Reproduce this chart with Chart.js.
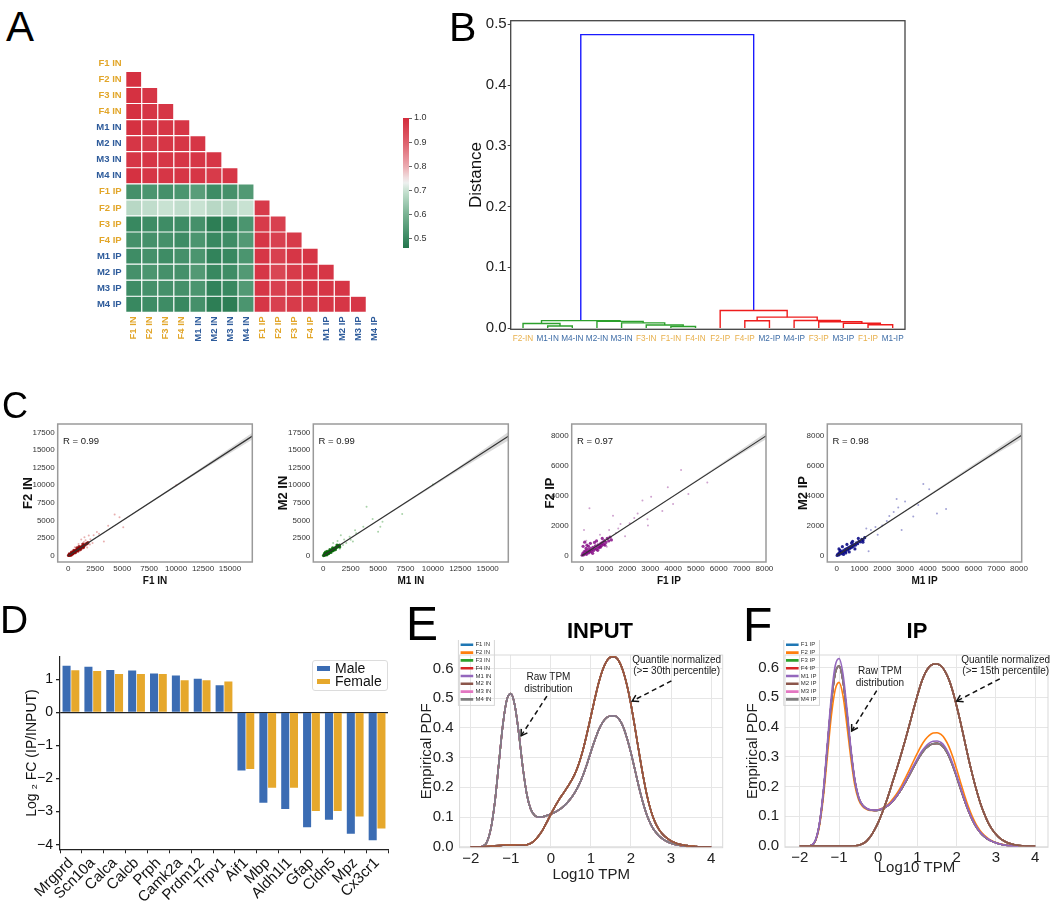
<!DOCTYPE html>
<html>
<head>
<meta charset="utf-8">
<script src="https://cdn.jsdelivr.net/npm/chart.js@4.4.1/dist/chart.umd.min.js"></script>
<style>
  body { margin: 0; background: #fff; }
  #fig { position: relative; width: 1050px; height: 902px; overflow: hidden; background: #fff;
         font-family: 'Liberation Sans', Arial, sans-serif; }
  .w { position: absolute; }
  .w canvas { display: block; }
  .lt { position: absolute; line-height: 1; color: #000; z-index: 2; }
  .ttl { position: absolute; width: 200px; text-align: center; font-weight: bold; font-size: 22px; line-height: 1; z-index: 2; }
  .leg { position: absolute; border: 1px solid #dcdcdc; border-radius: 3px; background: #fff;
         font-size: 14px; z-index: 2; padding-top: 1px; }
  .leg .row { height: 13px; line-height: 13px; display: flex; align-items: center; white-space: nowrap; color: #111; }
  .leg .hd { display: inline-block; width: 13px; height: 5px; margin: 0 5px 0 4px; }
</style>
</head>
<body>
<div id="fig">
  <div class="w" style="left:60px;top:40px;width:330px;height:310px"><canvas id="hm"></canvas></div>
  <div class="w" style="left:395px;top:110px;width:40px;height:148px"><canvas id="cbar"></canvas></div>
  <div class="w" style="left:440px;top:10px;width:480px;height:345px"><canvas id="dendro"></canvas></div>
  <div class="w" style="left:15px;top:415px;width:250px;height:176px"><canvas id="c1"></canvas></div>
  <div class="w" style="left:271px;top:415px;width:250px;height:176px"><canvas id="c2"></canvas></div>
  <div class="w" style="left:530px;top:415px;width:250px;height:176px"><canvas id="c3"></canvas></div>
  <div class="w" style="left:786px;top:415px;width:250px;height:176px"><canvas id="c4"></canvas></div>
  <div class="w" style="left:0px;top:640px;width:400px;height:262px"><canvas id="barD"></canvas></div>
  <div class="w" style="left:412px;top:640px;width:318px;height:262px"><canvas id="kdeE"></canvas></div>
  <div class="w" style="left:738px;top:640px;width:312px;height:262px"><canvas id="kdeF"></canvas></div>

  <div class="lt" style="left:6px;top:6px;font-size:42px">A</div>
  <div class="lt" style="left:449px;top:7px;font-size:41px">B</div>
  <div class="lt" style="left:2px;top:388px;font-size:36px">C</div>
  <div class="lt" style="left:0px;top:600px;font-size:39px">D</div>
  <div class="lt" style="left:406px;top:600px;font-size:48px">E</div>
  <div class="lt" style="left:743px;top:601px;font-size:48px">F</div>
  <div class="ttl" style="left:500px;top:620px">INPUT</div>
  <div class="ttl" style="left:817px;top:620px">IP</div>

  <div class="leg" id="legD" style="left:312px;top:660px;width:74px;height:28px"></div>
</div>

<script>
// ---------- A: sample correlation (lower triangle) ----------
const sampleLabels = ['F1 IN', 'F2 IN', 'F3 IN', 'F4 IN', 'M1 IN', 'M2 IN', 'M3 IN', 'M4 IN',
                      'F1 IP', 'F2 IP', 'F3 IP', 'F4 IP', 'M1 IP', 'M2 IP', 'M3 IP', 'M4 IP'];
const corrRows = [
  [],
  [0.99],
  [0.99, 0.98],
  [0.99, 0.98, 0.98],
  [0.99, 0.98, 0.98, 0.98],
  [0.98, 0.97, 0.98, 0.98, 0.98],
  [0.98, 0.98, 0.98, 0.98, 0.98, 0.98],
  [0.99, 0.98, 0.98, 0.98, 0.98, 0.97, 0.98],
  [0.52, 0.53, 0.52, 0.53, 0.55, 0.51, 0.52, 0.54],
  [0.68, 0.69, 0.70, 0.69, 0.70, 0.68, 0.68, 0.70, 0.97],
  [0.50, 0.51, 0.51, 0.51, 0.52, 0.48, 0.49, 0.53, 0.97, 0.96],
  [0.52, 0.52, 0.52, 0.51, 0.53, 0.50, 0.51, 0.54, 0.98, 0.96, 0.97],
  [0.51, 0.52, 0.51, 0.52, 0.53, 0.49, 0.50, 0.53, 0.98, 0.96, 0.98, 0.98],
  [0.52, 0.53, 0.52, 0.52, 0.54, 0.50, 0.51, 0.54, 0.98, 0.95, 0.97, 0.98, 0.98],
  [0.51, 0.52, 0.52, 0.52, 0.53, 0.49, 0.50, 0.54, 0.98, 0.96, 0.97, 0.98, 0.98, 0.98],
  [0.50, 0.51, 0.51, 0.50, 0.52, 0.48, 0.48, 0.53, 0.98, 0.96, 0.97, 0.97, 0.98, 0.98, 0.98]
];
const cbarTicks = [0.5, 0.6, 0.7, 0.8, 0.9, 1.0];
const cbarMin = 0.4625, cbarMax = 1.0;

// ---------- B: dendrogram ----------
const leafOrder = ['F2-IN', 'M1-IN', 'M4-IN', 'M2-IN', 'M3-IN', 'F3-IN', 'F1-IN', 'F4-IN',
                   'F2-IP', 'F4-IP', 'M2-IP', 'M4-IP', 'F3-IP', 'M3-IP', 'F1-IP', 'M1-IP'];
// [left, right, height]; numbers point to earlier merges
const merges = [
  ['M1-IN', 'M4-IN', 0.0035],
  ['F2-IN', 0, 0.0075],
  ['F1-IN', 'F4-IN', 0.0025],
  ['F3-IN', 2, 0.005],
  ['M3-IN', 3, 0.0085],
  ['M2-IN', 4, 0.011],
  [1, 5, 0.0122],
  ['F1-IP', 'M1-IP', 0.0055],
  ['M3-IP', 7, 0.008],
  ['F3-IP', 8, 0.0105],
  ['M4-IP', 9, 0.0125],
  ['F4-IP', 'M2-IP', 0.012],
  [11, 10, 0.018],
  ['F2-IP', 12, 0.029],
  [6, 13, 0.483]
];
const linkColors = ['#2ca02c', '#2ca02c', '#2ca02c', '#2ca02c', '#2ca02c', '#2ca02c', '#2ca02c',
                    '#ee1c1c', '#ee1c1c', '#ee1c1c', '#ee1c1c', '#ee1c1c', '#ee1c1c', '#ee1c1c', '#1a1aff'];
const distTicks = [0, 0.1, 0.2, 0.3, 0.4, 0.5];

// ---------- C: replicate scatter ----------
const inTicksX = [0, 2500, 5000, 7500, 10000, 12500, 15000];
const inTicksY = [0, 2500, 5000, 7500, 10000, 12500, 15000, 17500];
const ipTicksX = [0, 1000, 2000, 3000, 4000, 5000, 6000, 7000, 8000];
const ipTicksY = [0, 2000, 4000, 6000, 8000];
const rValues = ['R = 0.99', 'R = 0.99', 'R = 0.97', 'R = 0.98'];

const c1Dense = [[20,30],[60,90],[110,60],[150,170],[190,120],[240,260],[280,200],[330,340],[370,290],[420,450],
  [460,390],[510,540],[560,500],[600,640],[650,580],[700,730],[740,690],[790,820],[840,780],[880,930],[930,880],
  [980,1030],[1030,970],[1080,1130],[1140,1080],[1200,1240],[1260,1200],[1330,1370],[1400,1330],[1480,1500],
  [1560,1520],[1650,1680],[1740,1700],[1820,1860],[90,250],[250,80],[430,260],[300,520],[650,420],[520,760],
  [900,650],[800,1100],[1150,900],[1000,1300],[1400,1150],[1350,1650]];
const c1Spread = [[1200,2300],[1500,2600],[1900,2850],[2050,2350],[2250,1800],[2650,3350],[3300,2000],[3700,4250],
  [4300,5850],[4750,5450],[5100,4050],[1750,1150],[1450,1950],[2350,2900],[950,1650],[2850,3100],[600,1200],
  [1100,700],[2000,1600],[1600,2200],[10000,10000]];
const c1FitX = [0, 17069], c1FitY = [0, 16960];
const c1BandX = [0, 4000, 8000, 12000, 17069];
const c1BandHi = [30, 4020, 8030, 12120, 17450];
const c1BandLo = [-30, 3930, 7870, 11730, 16470];

const c2Dense = [[20,20],[70,100],[120,70],[160,190],[210,150],[260,290],[300,230],[350,380],[400,330],[450,490],
  [500,430],[550,600],[600,540],[650,700],[700,640],[750,790],[800,740],[860,900],[900,840],[960,1000],[1010,950],
  [1070,1100],[1120,1060],[1190,1220],[1260,1200],[1330,1380],[1400,1330],[1480,1500],[120,330],[330,120],
  [500,300],[350,600],[700,450],[600,850],[900,700],[850,1100],[1100,850],[1250,1500],[1500,1250],[200,500]];
const c2Spread = [[3950,6950],[5200,4100],[5000,3400],[5400,4800],[7200,5900],[3650,4100],[3000,3200],[2400,2700],
  [1600,2900],[2700,2000],[2100,1800],[1300,2100],[1800,1500],[900,1800],[2500,2250],[2900,3600],[1900,2300],
  [10000,10100],[4500,5200],[1500,1000]];
const c2FitX = [0, 16880], c2FitY = [0, 16950];
const c2BandX = [0, 4000, 8000, 12000, 16880];
const c2BandHi = [30, 4030, 8060, 12180, 17550];
const c2BandLo = [-30, 3960, 7880, 11760, 16350];

const c3Dense = [[20,30],[50,150],[90,60],[110,280],[150,130],[180,320],[210,90],[240,220],[280,400],[310,190],
  [340,300],[380,470],[410,260],[450,380],[490,560],[520,340],[560,470],[600,660],[640,430],[680,570],[720,720],
  [760,520],[800,650],[840,820],[880,680],[920,900],[960,760],[1000,1000],[1060,880],[1120,1150],[1180,980],
  [1240,1230],[60,620],[130,900],[230,700],[380,820],[560,880],[820,560],[700,360],[1020,700],[1300,1050],
  [480,160],[300,620],[190,480],[650,980],[900,1150]];
const c3Spread = [[4350,5700],[5500,4860],[3770,4550],[4670,4100],[4000,3440],[3040,3920],[2660,3660],[3530,2970],
  [2880,2420],[2900,2000],[340,3150],[100,1700],[1370,2660],[2450,2800],[1700,2100],[2100,2150],[1500,1500],
  [1900,1300],[1200,1700],[1600,1800],[2300,2500],[1100,600],[200,1000],[800,1400]];
const c3FitX = [0, 8070], c3FitY = [0, 7960];
const c3BandX = [0, 2000, 4000, 6000, 8070];
const c3BandHi = [20, 2000, 3990, 6030, 8180];
const c3BandLo = [-20, 1950, 3910, 5870, 7740];

const c4Dense = [[20,20],[50,110],[90,50],[120,210],[160,120],[200,260],[240,170],[280,330],[320,240],[360,400],
  [400,310],[440,470],[480,390],[520,540],[560,460],[600,610],[640,530],[680,690],[720,610],[770,760],[820,700],
  [870,860],[920,800],[980,960],[1040,920],[1100,1080],[1160,1040],[1230,1200],[100,450],[250,600],[450,750],
  [650,850],[300,80],[550,250],[800,450],[950,1150],[1150,900],[400,180],[150,350],[700,950]];
const c4Spread = [[3800,4770],[4060,4410],[2630,3770],[3000,3600],[3580,3370],[4800,3100],[4400,2800],[2310,2640],
  [2850,1700],[1400,300],[1240,1220],[3360,2600],[2000,2000],[1700,1900],[2500,2900],[1800,1400],[2200,2300],
  [1500,1700],[2700,3200],[1300,1800]];
const c4FitX = [0, 8118], c4FitY = [0, 8000];
const c4BandX = [0, 2000, 4000, 6000, 8118];
const c4BandHi = [20, 2010, 4010, 6060, 8230];
const c4BandLo = [-20, 1950, 3920, 5880, 7760];

// ---------- D: log2 fold change ----------
const genes = ['Mrgprd', 'Scn10a', 'Calca', 'Calcb', 'Prph', 'Camk2a', 'Prdm12', 'Trpv1',
               'Aif1', 'Mbp', 'Aldh1l1', 'Gfap', 'Cldn5', 'Mpz', 'Cx3cr1'];
const seriesNames = ['Male', 'Female'];
const maleFC = [1.41, 1.38, 1.28, 1.26, 1.17, 1.11, 1.01, 0.82, -1.76, -2.73, -2.92, -3.47, -3.25, -3.67, -3.87];
const femaleFC = [1.27, 1.25, 1.16, 1.16, 1.16, 0.97, 0.97, 0.93, -1.71, -2.28, -2.28, -2.98, -2.98, -3.15, -3.51];
const fcTicks = [-4, -3, -2, -1, 0, 1];

// ---------- E / F: empirical PDFs ----------
const samplesIN = ['F1 IN', 'F2 IN', 'F3 IN', 'F4 IN', 'M1 IN', 'M2 IN', 'M3 IN', 'M4 IN'];
const samplesIP = ['F1 IP', 'F2 IP', 'F3 IP', 'F4 IP', 'M1 IP', 'M2 IP', 'M3 IP', 'M4 IP'];
const tpmX = [-2.0,-1.9,-1.8,-1.7,-1.6,-1.5,-1.4,-1.3,-1.2,-1.1,-1.0,-0.9,-0.8,-0.7,-0.6,-0.5,-0.4,-0.3,-0.2,-0.1,
  0.0,0.1,0.2,0.3,0.4,0.5,0.6,0.7,0.8,0.9,1.0,1.1,1.2,1.3,1.4,1.5,1.6,1.7,1.8,1.9,
  2.0,2.1,2.2,2.3,2.4,2.5,2.6,2.7,2.8,2.9,3.0,3.1,3.2,3.3,3.4,3.5,3.6,3.7,3.8,3.9,4.0];
const rawIN = [0,0,0,0.002,0.015,0.06,0.15,0.28,0.41,0.495,0.515,0.475,0.38,0.265,0.175,0.125,0.105,0.1,0.101,0.105,
  0.11,0.116,0.124,0.134,0.147,0.163,0.183,0.208,0.24,0.278,0.32,0.36,0.395,0.42,0.435,0.44,0.44,0.43,0.405,0.365,
  0.315,0.258,0.2,0.148,0.105,0.074,0.052,0.037,0.026,0.018,0.012,0.008,0.005,0.003,0.0015,0.001,0,0,0,0,0];
const normIN = [0,0,0,0,0.001,0.002,0.003,0.004,0.005,0.006,0.006,0.006,0.005,0.005,0.007,0.012,0.022,0.038,0.058,0.083,
  0.11,0.135,0.158,0.178,0.198,0.22,0.245,0.28,0.325,0.38,0.44,0.5,0.555,0.598,0.626,0.638,0.638,0.624,0.592,0.543,
  0.478,0.4,0.318,0.24,0.172,0.12,0.083,0.058,0.041,0.029,0.02,0.014,0.009,0.006,0.004,0.002,0.001,0,0,0,0];
const rawIP = [0,0,0,0.003,0.02,0.075,0.18,0.33,0.48,0.58,0.605,0.555,0.445,0.32,0.22,0.162,0.137,0.126,0.121,0.12,
  0.121,0.125,0.132,0.142,0.156,0.173,0.193,0.216,0.24,0.265,0.289,0.31,0.327,0.338,0.344,0.345,0.34,0.326,0.302,0.27,
  0.232,0.192,0.153,0.118,0.088,0.064,0.046,0.033,0.023,0.016,0.011,0.007,0.004,0.002,0.001,0,0,0,0,0,0];
const rawIPF2 = [0,0,0,0.003,0.018,0.068,0.165,0.3,0.435,0.525,0.55,0.505,0.405,0.295,0.205,0.155,0.133,0.124,0.12,0.12,
  0.122,0.127,0.135,0.147,0.163,0.182,0.205,0.231,0.258,0.286,0.313,0.338,0.358,0.372,0.38,0.381,0.375,0.36,0.335,0.3,
  0.258,0.214,0.171,0.132,0.099,0.072,0.052,0.037,0.026,0.018,0.012,0.008,0.005,0.003,0.001,0,0,0,0,0,0];
const rawIPM1 = [0,0,0,0.003,0.021,0.078,0.19,0.345,0.5,0.605,0.63,0.578,0.462,0.33,0.225,0.165,0.138,0.127,0.122,0.121,
  0.122,0.126,0.133,0.143,0.157,0.175,0.196,0.22,0.245,0.27,0.295,0.317,0.334,0.346,0.352,0.353,0.348,0.334,0.31,0.277,
  0.238,0.197,0.157,0.121,0.09,0.066,0.047,0.034,0.024,0.016,0.011,0.007,0.004,0.002,0.001,0,0,0,0,0,0];
const normIP = [0,0,0,0,0,0,0,0,0,0,0,0,0,0,0.001,0.003,0.008,0.017,0.032,0.054,
  0.08,0.112,0.148,0.188,0.23,0.272,0.316,0.362,0.41,0.46,0.507,0.55,0.582,0.602,0.611,0.612,0.605,0.588,0.56,0.52,
  0.47,0.415,0.355,0.295,0.24,0.19,0.146,0.11,0.08,0.057,0.04,0.027,0.018,0.011,0.007,0.004,0.002,0.001,0,0,0];
const kdeXTicks = [-2, -1, 0, 1, 2, 3, 4];
const pdfTicks = [0, 0.1, 0.2, 0.3, 0.4, 0.5, 0.6];

// ---------- helpers ----------
const SANS = "'Liberation Sans', Arial, sans-serif";
const tab10 = ['#1f77b4', '#ff7f0e', '#2ca02c', '#d62728', '#9467bd', '#8c564b', '#e377c2', '#7f7f7f'];

const fix = (px) => (s) => { if (s.isHorizontal()) s.height = px; else s.width = px; };
const setTicks = (vals) => (s) => { s.ticks = vals.map(v => ({ value: v })); };
const toPts = (arr) => arr.map(([x, y]) => ({ x, y }));
const zipXY = (xs, ys) => xs.map((x, i) => ({ x, y: ys[i] }));
const minus = (v) => String(v).replace('-', '\u2212');

const cmapStops = [
  [0.46, [34, 116, 74]], [0.50, [56, 136, 96]], [0.60, [120, 178, 146]], [0.70, [200, 226, 210]],
  [0.735, [242, 242, 242]], [0.80, [236, 170, 176]], [0.90, [222, 95, 108]], [1.00, [212, 44, 60]]
];
function corrColor(v) {
  if (v <= cmapStops[0][0]) return 'rgb(' + cmapStops[0][1].join(',') + ')';
  for (let k = 1; k < cmapStops.length; k++) {
    const [v1, c1] = cmapStops[k];
    if (v <= v1) {
      const [v0, c0] = cmapStops[k - 1];
      const t = (v - v0) / (v1 - v0);
      return 'rgb(' + c0.map((c, i) => Math.round(c + (c1[i] - c) * t)).join(',') + ')';
    }
  }
  return 'rgb(' + cmapStops[cmapStops.length - 1][1].join(',') + ')';
}
const hmLabelColor = (name) => name.startsWith('F') ? '#e2a62a' : '#2d5b9b';
const dnLabelColor = (name) => name.startsWith('F') ? '#e8b04c' : '#3d6ca6';

// frame around plot area + optional frame around an inside legend
const framePlugin = {
  id: 'frame',
  afterDatasetsDraw(chart, args, opts) {
    const ctx = chart.ctx;
    if (opts.color) {
      const { left, top, width, height } = chart.chartArea;
      ctx.save();
      ctx.strokeStyle = opts.color;
      ctx.lineWidth = opts.width || 1;
      ctx.strokeRect(left, top, width, height);
      ctx.restore();
    }
    if (opts.legendFrame && chart.legend && chart.legend.legendHitBoxes && chart.legend.legendHitBoxes.length) {
      const hb = chart.legend.legendHitBoxes;
      const x0 = Math.min(...hb.map(h => h.left)) - 3;
      const y0 = Math.min(...hb.map(h => h.top)) - 3;
      const x1 = Math.max(...hb.map(h => h.left + h.width)) + 3;
      const y1 = Math.max(...hb.map(h => h.top + h.height)) + 3;
      ctx.save();
      ctx.strokeStyle = '#d6d6d6';
      ctx.lineWidth = 1;
      ctx.strokeRect(x0, y0, x1 - x0, y1 - y0);
      ctx.restore();
    }
  }
};

// texts and dashed arrows placed in data or axes-fraction coordinates
const notesPlugin = {
  id: 'notes',
  afterDatasetsDraw(chart, args, opts) {
    const ctx = chart.ctx, xs = chart.scales.x, ys = chart.scales.y, ca = chart.chartArea;
    const px = (p) => p.ax !== undefined
      ? [ca.left + p.ax * ca.width, ca.bottom - p.ay * ca.height]
      : [xs.getPixelForValue(p.x), ys.getPixelForValue(p.y)];
    ctx.save();
    (opts.texts || []).forEach(t => {
      const [x, y] = px(t);
      ctx.font = t.font || ('10px ' + SANS);
      ctx.fillStyle = '#1a1a1a';
      ctx.textAlign = t.align || 'center';
      ctx.textBaseline = 'middle';
      ctx.fillText(t.text, x, y);
    });
    (opts.arrows || []).forEach(a => {
      const [x1, y1] = px({ x: a.x1, y: a.y1 });
      const [x2, y2] = px({ x: a.x2, y: a.y2 });
      ctx.strokeStyle = '#111';
      ctx.lineWidth = 1.5;
      ctx.setLineDash([5, 3.5]);
      ctx.beginPath(); ctx.moveTo(x1, y1); ctx.lineTo(x2, y2); ctx.stroke();
      ctx.setLineDash([]);
      const ang = Math.atan2(y1 - y2, x1 - x2);
      ctx.beginPath();
      ctx.moveTo(x2 + 7 * Math.cos(ang + 0.55), y2 + 7 * Math.sin(ang + 0.55));
      ctx.lineTo(x2, y2);
      ctx.lineTo(x2 + 7 * Math.cos(ang - 0.55), y2 + 7 * Math.sin(ang - 0.55));
      ctx.stroke();
    });
    ctx.restore();
  }
};

Chart.register(framePlugin, notesPlugin);
Chart.defaults.font.family = SANS;
Chart.defaults.color = '#222';
Chart.defaults.animation = false;
Chart.defaults.responsive = true;
Chart.defaults.maintainAspectRatio = false;
Chart.defaults.plugins.tooltip.enabled = false;
Chart.defaults.plugins.legend.display = false;

// ---------- A ----------
const hmDatasets = sampleLabels.map((rowName, i) => ({
  label: rowName,
  data: sampleLabels.map((_, j) => j < i ? [i - 0.5, i + 0.5] : null),
  backgroundColor: sampleLabels.map((_, j) => j < i ? corrColor(corrRows[i][j]) : 'rgba(0,0,0,0)'),
  borderColor: 'rgba(255,255,255,0.85)',
  borderWidth: 0.6,
  borderSkipped: false,
  grouped: false,
  barPercentage: 1,
  categoryPercentage: 1,
  inflateAmount: 0
}));

new Chart('hm', {
  type: 'bar',
  data: { labels: sampleLabels, datasets: hmDatasets },
  options: {
    layout: { padding: { left: 0, top: 15.3, right: 7.3, bottom: 0 } },
    scales: {
      x: {
        offset: true,
        grid: { display: false, drawTicks: false },
        border: { display: false },
        ticks: { autoSkip: false, minRotation: 90, maxRotation: 90, padding: 4,
                 font: { size: 9.5, weight: 'bold' }, color: c => hmLabelColor(sampleLabels[c.index]) },
        afterFit: fix(37.7)
      },
      y: {
        type: 'linear', reverse: true, min: -0.5, max: 15.5,
        afterBuildTicks: setTicks(sampleLabels.map((_, i) => i)),
        grid: { display: false, drawTicks: false },
        border: { display: false },
        ticks: { padding: 4, font: { size: 9.5, weight: 'bold' },
                 callback: v => sampleLabels[v], color: c => hmLabelColor(sampleLabels[c.index]) },
        afterFit: fix(65.7)
      }
    }
  }
});

new Chart('cbar', {
  type: 'bar',
  data: {
    labels: ['r'],
    datasets: [{
      data: [[cbarMin, cbarMax]],
      backgroundColor: (c) => {
        const ch = c.chart;
        if (!ch.chartArea) return '#ccc';
        const ys = ch.scales.y;
        const g = ch.ctx.createLinearGradient(0, ys.getPixelForValue(cbarMin), 0, ys.getPixelForValue(cbarMax));
        for (let k = 0; k <= 24; k++) g.addColorStop(k / 24, corrColor(cbarMin + (cbarMax - cbarMin) * k / 24));
        return g;
      },
      barPercentage: 1, categoryPercentage: 1, borderWidth: 0
    }]
  },
  options: {
    layout: { padding: { left: 8, top: 8, right: 0, bottom: 10 } },
    scales: {
      x: { display: false },
      y: {
        position: 'right', min: cbarMin, max: cbarMax,
        afterBuildTicks: setTicks(cbarTicks),
        grid: { display: true, drawOnChartArea: false, tickLength: 3, tickColor: '#666' },
        border: { display: false },
        ticks: { padding: 2, font: { size: 9 }, color: '#333', callback: v => v.toFixed(1) },
        afterFit: fix(26)
      }
    }
  }
});

// ---------- B ----------
const leafX = leafOrder.map((_, i) => 5 + 10 * i);
const nodeX = [], nodeH = [];
const posOf = (ref) => typeof ref === 'number' ? [nodeX[ref], nodeH[ref]] : [leafX[leafOrder.indexOf(ref)], 0];
const linkSets = merges.map((m, k) => {
  const [xa, ha] = posOf(m[0]);
  const [xb, hb] = posOf(m[1]);
  nodeX[k] = (xa + xb) / 2;
  nodeH[k] = m[2];
  return {
    data: [{ x: xa, y: ha }, { x: xa, y: m[2] }, { x: xb, y: m[2] }, { x: xb, y: hb }],
    showLine: true, borderColor: linkColors[k], borderWidth: 1.4, pointRadius: 0, tension: 0, fill: false
  };
});

new Chart('dendro', {
  type: 'scatter',
  data: { datasets: linkSets },
  options: {
    layout: { padding: { left: 21.8, top: 10.7, right: 15, bottom: 0 } },
    plugins: { frame: { color: '#444', width: 1.3 } },
    scales: {
      x: {
        type: 'linear', min: 0, max: 160,
        afterBuildTicks: setTicks(leafX),
        grid: { display: false, drawTicks: false },
        border: { display: false },
        ticks: { autoSkip: false, maxRotation: 0, padding: 5, font: { size: 8.2 },
                 callback: (v, i) => leafOrder[i], color: c => dnLabelColor(leafOrder[c.index]) },
        afterFit: fix(25.7)
      },
      y: {
        min: -0.002, max: 0.506,
        afterBuildTicks: setTicks(distTicks),
        grid: { display: true, drawOnChartArea: false, tickLength: 3, tickColor: '#444' },
        border: { display: false },
        ticks: { padding: 1, font: { size: 15 }, color: '#222', callback: v => v.toFixed(1) },
        title: { display: true, text: 'Distance', font: { size: 17 }, color: '#111', padding: { top: 4, bottom: 0 } },
        afterFit: fix(48.9)
      }
    }
  }
});

// ---------- C ----------
function scatterPanel(id, p) {
  new Chart(id, {
    type: 'scatter',
    data: {
      datasets: [
        { type: 'line', data: zipXY(p.fitX, p.fitY), borderColor: '#333', borderWidth: 1.2, pointRadius: 0, fill: false },
        { data: toPts(p.dense), pointRadius: 1.6, backgroundColor: p.denseColor, borderWidth: 0 },
        { data: toPts(p.spread), pointRadius: 1.0, backgroundColor: p.spreadColor, borderWidth: 0 },
        { type: 'line', data: zipXY(p.bandX, p.bandHi), borderColor: 'rgba(0,0,0,0)', pointRadius: 0,
          fill: '+1', backgroundColor: 'rgba(150,150,150,0.35)' },
        { type: 'line', data: zipXY(p.bandX, p.bandLo), borderColor: 'rgba(0,0,0,0)', pointRadius: 0, fill: false }
      ]
    },
    options: {
      layout: { padding: { left: p.padL, top: 9, right: p.padR, bottom: 2 } },
      plugins: {
        frame: { color: '#9a9a9a', width: 1.5 },
        notes: { texts: [{ ax: 0.027, ay: 0.872, text: p.rText, align: 'left', font: '9.5px ' + SANS }] }
      },
      scales: {
        x: {
          type: 'linear', min: p.xMin, max: p.xMax,
          afterBuildTicks: setTicks(p.xTicks),
          grid: { display: false, drawTicks: false },
          border: { display: false },
          ticks: { autoSkip: false, maxRotation: 0, minRotation: 0, padding: 2,
                   font: { size: 8 }, color: '#333', callback: v => String(v) },
          title: { display: true, text: p.xTitle, font: { size: 10, weight: 'bold' },
                   color: '#111', padding: { top: 0, bottom: 2 } },
          afterFit: fix(27)
        },
        y: {
          min: p.yMin, max: p.yMax,
          afterBuildTicks: setTicks(p.yTicks),
          grid: { display: false, drawTicks: false },
          border: { display: false },
          ticks: { padding: 3, font: { size: 8 }, color: '#333', callback: v => String(v) },
          title: { display: true, text: p.yTitle, font: { size: 13, weight: 'bold' },
                   color: '#111', padding: { top: 4, bottom: 0 } },
          afterFit: fix(p.yW)
        }
      }
    }
  });
}

scatterPanel('c1', { dense: c1Dense, spread: c1Spread, fitX: c1FitX, fitY: c1FitY, bandX: c1BandX, bandHi: c1BandHi, bandLo: c1BandLo,
  denseColor: 'rgba(139,0,0,0.85)', spreadColor: 'rgba(214,110,110,0.55)', rText: rValues[0],
  xTitle: 'F1 IN', yTitle: 'F2 IN', xTicks: inTicksX, yTicks: inTicksY,
  xMin: -983, xMax: 17069, yMin: -894, yMax: 18680, padL: 1.5, yW: 41.2, padR: 12.7 });
scatterPanel('c2', { dense: c2Dense, spread: c2Spread, fitX: c2FitX, fitY: c2FitY, bandX: c2BandX, bandHi: c2BandHi, bandLo: c2BandLo,
  denseColor: 'rgba(0,100,0,0.85)', spreadColor: 'rgba(100,175,100,0.55)', rText: rValues[1],
  xTitle: 'M1 IN', yTitle: 'M2 IN', xTicks: inTicksX, yTicks: inTicksY,
  xMin: -912, xMax: 16880, yMin: -894, yMax: 18680, padL: 0.5, yW: 41.8, padR: 12.7 });
scatterPanel('c3', { dense: c3Dense, spread: c3Spread, fitX: c3FitX, fitY: c3FitY, bandX: c3BandX, bandHi: c3BandHi, bandLo: c3BandLo,
  denseColor: 'rgba(128,0,128,0.8)', spreadColor: 'rgba(175,100,175,0.6)', rText: rValues[2],
  xTitle: 'F1 IP', yTitle: 'F2 IP', xTicks: ipTicksX, yTicks: ipTicksY,
  xMin: -438, xMax: 8070, yMin: -419, yMax: 8751, padL: 8.2, yW: 33.5, padR: 14 });
scatterPanel('c4', { dense: c4Dense, spread: c4Spread, fitX: c4FitX, fitY: c4FitY, bandX: c4BandX, bandHi: c4BandHi, bandLo: c4BandLo,
  denseColor: 'rgba(0,0,128,0.85)', spreadColor: 'rgba(100,100,185,0.6)', rText: rValues[3],
  xTitle: 'M1 IP', yTitle: 'M2 IP', xTicks: ipTicksX, yTicks: ipTicksY,
  xMin: -412, xMax: 8118, yMin: -419, yMax: 8751, padL: 5.5, yW: 35.8, padR: 14.3 });

// ---------- D ----------
const barColors = ['#3b6cb3', '#e6a82c'];
new Chart('barD', {
  type: 'bar',
  data: {
    labels: genes,
    datasets: [
      { label: seriesNames[0], data: maleFC, backgroundColor: barColors[0] },
      { label: seriesNames[1], data: femaleFC, backgroundColor: barColors[1] }
    ]
  },
  options: {
    layout: { padding: { left: 20, top: 16.7, right: 12, bottom: 0 } },
    datasets: { bar: { categoryPercentage: 0.8, barPercentage: 0.92 } },
    scales: {
      x: {
        grid: { display: true, drawOnChartArea: false, tickLength: 4, tickColor: '#222' },
        border: { display: true, color: '#222', width: 1.2 },
        ticks: { autoSkip: false, minRotation: 45, maxRotation: 45, padding: 1, font: { size: 15 }, color: '#111' },
        afterFit: fix(52.7)
      },
      y: {
        min: -4.14, max: 1.68,
        afterBuildTicks: setTicks(fcTicks),
        grid: { color: c => (c.tick && c.tick.value === 0) ? '#222' : 'rgba(0,0,0,0)', lineWidth: 1.3,
                tickColor: '#222', tickLength: 4 },
        border: { display: true, color: '#222', width: 1.2 },
        ticks: { padding: 3, font: { size: 14 }, color: '#111', callback: v => minus(v) },
        title: { display: true, text: 'Log \u2082 FC (IP/INPUT)', font: { size: 14 }, color: '#111', padding: { top: 4, bottom: 0 } },
        afterFit: fix(40)
      }
    }
  }
});
document.getElementById('legD').innerHTML = seriesNames.map((n, i) =>
  '<div class="row"><span class="hd" style="background:' + barColors[i] + '"></span>' + n + '</div>').join('');

// ---------- E / F ----------
function kdePanel(id, p) {
  const ds = [];
  p.normOrder.forEach(s => ds.push({
    data: zipXY(tpmX, p.norm), borderColor: tab10[s], backgroundColor: tab10[s],
    borderWidth: 1.6, pointRadius: 0, cubicInterpolationMode: 'monotone', raw: false, sample: s
  }));
  p.rawOrder.forEach(s => ds.push({
    label: p.samples[s], data: zipXY(tpmX, p.rawFor(s)), borderColor: tab10[s], backgroundColor: tab10[s],
    borderWidth: 1.6, pointRadius: 0, cubicInterpolationMode: 'monotone', raw: true, sample: s
  }));
  new Chart(id, {
    type: 'line',
    data: { datasets: ds },
    options: {
      layout: { padding: p.pad },
      plugins: {
        frame: { color: '#d9d9d9', width: 1, legendFrame: true },
        legend: {
          display: true, position: 'chartArea', align: 'start',
          labels: {
            boxWidth: 11, boxHeight: 1, padding: 1.8, color: '#333', font: { size: 6 },
            filter: (it, d) => d.datasets[it.datasetIndex].raw,
            sort: (a, b, d) => d.datasets[a.datasetIndex].sample - d.datasets[b.datasetIndex].sample
          }
        },
        notes: { texts: p.texts, arrows: p.arrows }
      },
      scales: {
        x: {
          type: 'linear', min: p.xMin, max: p.xMax,
          afterBuildTicks: setTicks(kdeXTicks),
          grid: { color: '#e6e6e6', drawTicks: false },
          border: { display: false },
          ticks: { padding: 2, font: { size: 15 }, color: '#222', callback: v => minus(v) },
          title: { display: true, text: 'Log10 TPM', font: { size: 15 }, color: '#222', padding: { top: 0, bottom: 4 } },
          afterFit: fix(p.xH)
        },
        y: {
          min: p.yMin, max: p.yMax,
          afterBuildTicks: setTicks(pdfTicks),
          grid: { color: '#e6e6e6', drawTicks: false },
          border: { display: false },
          ticks: { padding: 6, font: { size: 15 }, color: '#222', callback: v => v.toFixed(1) },
          title: { display: true, text: 'Empirical PDF', font: { size: 15 }, color: '#222', padding: { top: 4, bottom: 0 } },
          afterFit: fix(45.3)
        }
      }
    }
  });
}

kdePanel('kdeE', {
  samples: samplesIN, norm: normIN, rawFor: () => rawIN,
  normOrder: [5, 1, 3, 0, 2, 4, 6, 7], rawOrder: [7, 4, 6, 5, 3, 2, 1, 0],
  pad: { left: 2.3, top: 15, right: 7.3, bottom: 14 }, xH: 40.3,
  xMin: -2.28, xMax: 4.29, yMin: -0.003, yMax: 0.645,
  texts: [
    { x: -0.06, y: 0.57, text: 'Raw TPM' }, { x: -0.06, y: 0.53, text: 'distribution' },
    { x: 3.14, y: 0.628, text: 'Quantile normalized' }, { x: 3.14, y: 0.589, text: '(>= 30th percentile)' }
  ],
  arrows: [{ x1: -0.10, y1: 0.507, x2: -0.745, y2: 0.373 }, { x1: 3.01, y1: 0.558, x2: 2.03, y2: 0.49 }]
});

kdePanel('kdeF', {
  samples: samplesIP, norm: normIP, rawFor: (s) => s === 1 ? rawIPF2 : (s === 4 ? rawIPM1 : rawIP),
  normOrder: [5, 7, 1, 3, 0, 2, 4, 6], rawOrder: [4, 7, 5, 6, 1, 3, 2, 0],
  pad: { left: 1.7, top: 13.3, right: 2, bottom: 20.7 }, xH: 34,
  xMin: -2.38, xMax: 4.33, yMin: -0.004, yMax: 0.642,
  texts: [
    { x: 0.04, y: 0.587, text: 'Raw TPM' }, { x: 0.04, y: 0.548, text: 'distribution' },
    { x: 3.25, y: 0.626, text: 'Quantile normalized' }, { x: 3.25, y: 0.587, text: '(>= 15th percentile)' }
  ],
  arrows: [{ x1: -0.04, y1: 0.522, x2: -0.68, y2: 0.387 }, { x1: 3.1, y1: 0.562, x2: 2.0, y2: 0.487 }]
});
</script>
</body>
</html>
